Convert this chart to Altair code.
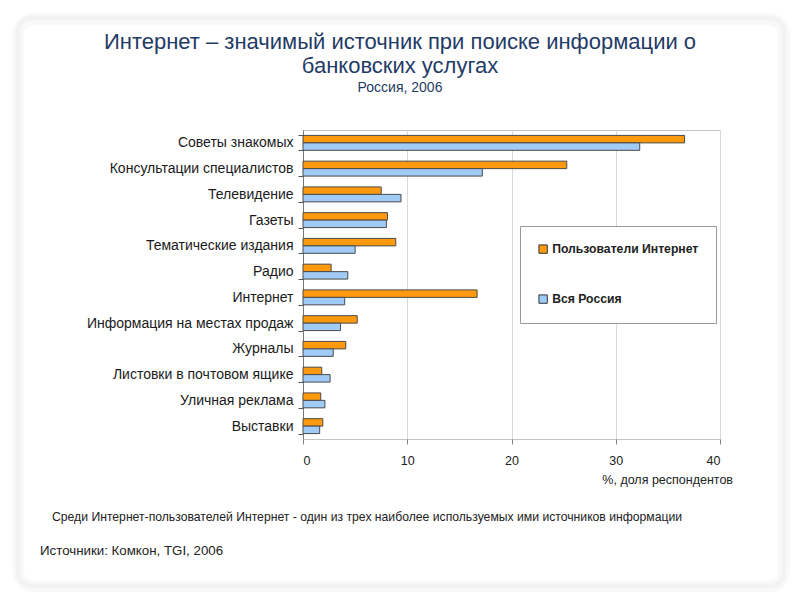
import altair as alt
import pandas as pd

categories = [
    "Советы знакомых",
    "Консультации специалистов",
    "Телевидение",
    "Газеты",
    "Тематические издания",
    "Радио",
    "Интернет",
    "Информация на местах продаж",
    "Журналы",
    "Листовки в почтовом ящике",
    "Уличная реклама",
    "Выставки",
]
series = ["Пользователи Интернет", "Вся Россия"]
internet_users = [36.6, 25.3, 7.5, 8.1, 8.9, 2.7, 16.7, 5.2, 4.1, 1.8, 1.7, 1.9]
all_russia = [32.3, 17.2, 9.4, 8.0, 5.0, 4.3, 4.0, 3.6, 2.9, 2.6, 2.1, 1.6]
x_ticks = [0, 10, 20, 30, 40]
colors = ["#FF9A0E", "#9FCBF6"]

title_line1 = "Интернет – значимый источник при поиске информации о"
title_line2 = "банковских услугах"
subtitle = "Россия, 2006"
x_title = "%, доля респондентов"
footnote = "Среди Интернет-пользователей Интернет - один из трех наиболее используемых ими источников информации"
source = "Источники: Комкон, TGI, 2006"

rows = []
for c, a, b in zip(categories, internet_users, all_russia):
    rows.append({"category": c, "series": series[0], "value": a})
    rows.append({"category": c, "series": series[1], "value": b})
df = pd.DataFrame(rows)

FONT = "Liberation Sans, Arial, sans-serif"
NAVY = "#1F3B66"

one = alt.Data(values=[{}])

card_shadow = alt.Chart(one).mark_rect(
    fill="transparent", stroke="#000000", strokeOpacity=0.022, strokeWidth=12, cornerRadius=16
).encode(x=alt.value(-285), x2=alt.value(481), y=alt.value(-111), y2=alt.value(457))
card_shadow2 = alt.Chart(one).mark_rect(
    fill="transparent", stroke="#000000", strokeOpacity=0.025, strokeWidth=5, cornerRadius=14
).encode(x=alt.value(-285), x2=alt.value(481), y=alt.value(-112), y2=alt.value(456))

bars = alt.Chart(df).mark_bar(stroke="#4a4a4a", strokeWidth=1, opacity=1).encode(
    x=alt.X(
        "value:Q",
        scale=alt.Scale(domain=[0, 40], nice=False),
        axis=alt.Axis(
            values=x_ticks, title=None, grid=True, gridColor="#d9d9d9", domain=False,
            tickColor="#808080", tickSize=5, labelPadding=10, labelFont=FONT,
            labelFontSize=12.5, labelColor="#222222",
        ),
    ),
    y=alt.Y(
        "category:N",
        sort=categories,
        scale=alt.Scale(paddingInner=0.42, paddingOuter=0.21),
        axis=alt.Axis(
            title=None, tickBand="extent", tickSize=5, tickColor="#555555",
            domainColor="#777777", labelPadding=5, labelFont=FONT, labelFontSize=14,
            labelColor="#1a1a1a", labelLimit=280,
        ),
    ),
    yOffset=alt.YOffset("series:N", sort=series),
    color=alt.Color(
        "series:N",
        sort=series,
        scale=alt.Scale(domain=series, range=colors),
        legend=alt.Legend(
            title=None, orient="none", legendX=217, legendY=96, direction="vertical",
            padding=17, rowPadding=36, strokeColor="#9a9a9a", fillColor="white",
            symbolType="square", symbolSize=70, symbolStrokeColor="#333333",
            symbolStrokeWidth=1, symbolOpacity=1, labelFont=FONT, labelFontSize=12.2,
            labelFontWeight="bold", labelColor="#222222", labelOffset=3,
        ),
    ),
)

def txt(text, x, y, size, align="center", color="#222222", font=FONT):
    return alt.Chart(one).mark_text(
        text=text, align=align, baseline="middle", fontSize=size, font=font, color=color
    ).encode(x=alt.value(x), y=alt.value(y))

layers = [
    card_shadow,
    card_shadow2,
    bars,
    txt(title_line1, 97, -88, 22, color=NAVY),
    txt(title_line2, 97, -64, 22, color=NAVY),
    txt(subtitle, 97, -42, 14, color=NAVY),
    txt(x_title, 430, 350, 12.5, align="right"),
    txt(footnote, -251, 387, 12.2, align="left"),
    txt(source, -263, 421, 13.3, align="left"),
]

chart = alt.layer(*layers).properties(
    width=417,
    height=309,
    autosize=alt.AutoSizeParams(type="none"),
    padding={"left": 295, "top": 122, "right": 72, "bottom": 153},
    background="white",
).configure_view(stroke="#c4c4c4", strokeWidth=1)

chart.save("out.html", embed_options={"renderer": "svg", "actions": False})
